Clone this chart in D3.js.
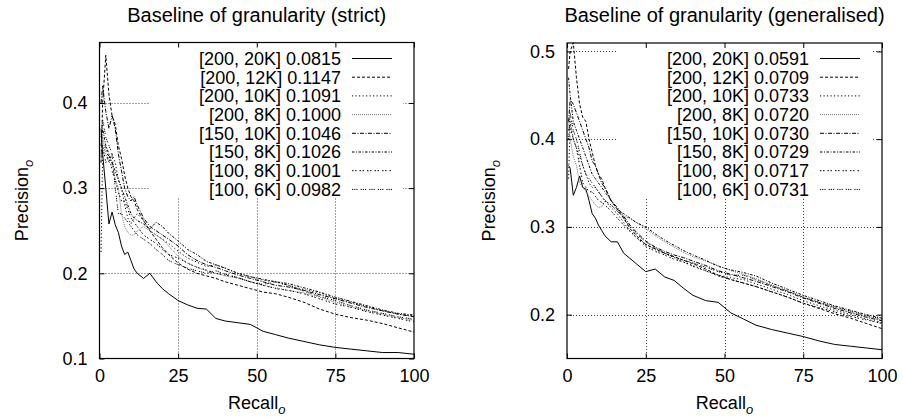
<!DOCTYPE html>
<html>
<head>
<meta charset="utf-8">
<script src="https://cdn.jsdelivr.net/npm/d3@7"></script>
<style>
  body { margin: 0; background: #fff; }
  svg { font-family: "Liberation Sans", Arial, sans-serif; }
</style>
</head>
<body>
<div class="chart-container"></div>
<script>
// Data
// recall grid shared by every curve
const recall = [0.5,1,2,3,4,5,6,7,8,9,10,11,12,14,16,18,20,22,25,28,31,34,37,40,44,48,52,56,60,65,70,75,80,85,90,95,100];

const series_names = ['[200, 20K]','[200, 12K]','[200, 10K]','[200, 8K]','[150, 10K]','[150, 8K]','[100, 8K]','[100, 6K]'];
const strict_scores = ['0.0815','0.1147','0.1091','0.1000','0.1046','0.1026','0.1001','0.0982'];
const general_scores = ['0.0591','0.0709','0.0733','0.0720','0.0730','0.0729','0.0717','0.0731'];

// strict panel precision values
const strict_200_20k = [0.37,0.34,0.30,0.258,0.272,0.257,0.248,0.232,0.222,0.225,0.215,0.205,0.2,0.194,0.2,0.19,0.182,0.176,0.168,0.163,0.159,0.158,0.147,0.144,0.142,0.14,0.132,0.128,0.124,0.12,0.116,0.113,0.111,0.109,0.107,0.107,0.105];
const strict_200_12k = [0.33,0.40,0.456,0.41,0.385,0.375,0.35,0.335,0.315,0.30,0.29,0.285,0.275,0.262,0.25,0.24,0.23,0.222,0.212,0.205,0.20,0.197,0.194,0.19,0.186,0.182,0.178,0.176,0.172,0.166,0.158,0.152,0.148,0.145,0.141,0.136,0.131];
const strict_200_10k = [0.225,0.34,0.35,0.33,0.34,0.33,0.31,0.30,0.28,0.265,0.258,0.265,0.27,0.262,0.25,0.245,0.24,0.235,0.226,0.218,0.213,0.208,0.21,0.206,0.20,0.196,0.192,0.19,0.186,0.181,0.177,0.171,0.166,0.161,0.156,0.152,0.15];
const strict_200_8k = [0.33,0.36,0.34,0.33,0.33,0.31,0.30,0.27,0.255,0.248,0.245,0.245,0.25,0.255,0.25,0.245,0.24,0.232,0.22,0.212,0.207,0.203,0.20,0.197,0.194,0.19,0.186,0.183,0.18,0.177,0.172,0.166,0.161,0.156,0.152,0.148,0.145];
const strict_150_10k = [0.40,0.42,0.39,0.37,0.385,0.37,0.34,0.32,0.30,0.29,0.285,0.29,0.28,0.265,0.255,0.25,0.245,0.24,0.232,0.222,0.215,0.21,0.207,0.203,0.198,0.194,0.19,0.186,0.184,0.18,0.175,0.17,0.165,0.16,0.156,0.152,0.149];
const strict_150_8k = [0.35,0.37,0.35,0.34,0.33,0.32,0.31,0.30,0.29,0.28,0.27,0.265,0.262,0.258,0.252,0.26,0.255,0.247,0.238,0.228,0.222,0.214,0.21,0.206,0.20,0.196,0.193,0.19,0.188,0.183,0.178,0.172,0.167,0.162,0.157,0.153,0.151];
const strict_100_8k = [0.34,0.35,0.33,0.34,0.32,0.31,0.295,0.285,0.285,0.275,0.265,0.26,0.255,0.245,0.24,0.235,0.228,0.222,0.218,0.212,0.207,0.204,0.20,0.198,0.195,0.19,0.186,0.182,0.18,0.176,0.17,0.164,0.16,0.155,0.151,0.147,0.143];
const strict_100_6k = [0.36,0.38,0.36,0.35,0.34,0.30,0.27,0.27,0.265,0.26,0.255,0.25,0.245,0.24,0.235,0.228,0.222,0.215,0.21,0.206,0.203,0.20,0.203,0.199,0.195,0.19,0.187,0.19,0.186,0.179,0.173,0.168,0.162,0.157,0.153,0.149,0.146];

// generalised panel precision values
const general_200_20k = [0.37,0.367,0.336,0.345,0.358,0.345,0.343,0.33,0.315,0.31,0.302,0.296,0.29,0.283,0.283,0.27,0.264,0.258,0.249,0.252,0.243,0.239,0.23,0.222,0.216,0.214,0.202,0.195,0.188,0.183,0.179,0.175,0.17,0.166,0.164,0.162,0.16];
const general_200_12k = [0.48,0.50,0.51,0.47,0.44,0.425,0.42,0.40,0.385,0.37,0.36,0.355,0.345,0.33,0.32,0.31,0.298,0.29,0.28,0.275,0.27,0.266,0.262,0.258,0.252,0.245,0.24,0.236,0.232,0.226,0.22,0.213,0.207,0.201,0.196,0.19,0.184];
const general_200_10k = [0.355,0.42,0.40,0.39,0.38,0.37,0.36,0.35,0.345,0.345,0.34,0.335,0.33,0.322,0.315,0.305,0.295,0.288,0.28,0.274,0.27,0.265,0.26,0.256,0.25,0.245,0.242,0.24,0.235,0.229,0.223,0.216,0.21,0.205,0.20,0.195,0.191];
const general_200_8k = [0.42,0.40,0.38,0.37,0.35,0.345,0.34,0.335,0.33,0.325,0.322,0.323,0.33,0.325,0.318,0.312,0.31,0.305,0.298,0.29,0.283,0.277,0.271,0.266,0.261,0.256,0.25,0.246,0.241,0.234,0.227,0.22,0.214,0.208,0.203,0.198,0.194];
const general_150_10k = [0.42,0.445,0.44,0.43,0.42,0.41,0.40,0.39,0.375,0.37,0.36,0.35,0.345,0.33,0.322,0.312,0.302,0.294,0.284,0.277,0.272,0.268,0.265,0.261,0.256,0.25,0.246,0.242,0.238,0.232,0.226,0.219,0.213,0.207,0.202,0.197,0.193];
const general_150_8k = [0.47,0.45,0.42,0.41,0.40,0.39,0.38,0.37,0.36,0.355,0.35,0.345,0.34,0.33,0.32,0.315,0.31,0.305,0.30,0.292,0.285,0.279,0.273,0.268,0.262,0.255,0.251,0.248,0.244,0.236,0.229,0.222,0.216,0.21,0.205,0.20,0.196];
const general_100_8k = [0.41,0.415,0.40,0.39,0.37,0.35,0.345,0.34,0.34,0.335,0.33,0.328,0.325,0.318,0.31,0.302,0.295,0.288,0.278,0.272,0.268,0.263,0.26,0.255,0.25,0.244,0.24,0.236,0.232,0.226,0.22,0.213,0.208,0.203,0.198,0.194,0.19];
const general_100_6k = [0.40,0.43,0.41,0.40,0.385,0.37,0.36,0.355,0.35,0.345,0.34,0.335,0.33,0.325,0.318,0.31,0.30,0.292,0.283,0.276,0.27,0.266,0.262,0.259,0.254,0.249,0.245,0.245,0.24,0.233,0.227,0.22,0.214,0.209,0.204,0.199,0.195];

const x_ticks = [0, 25, 50, 75, 100];
const strict_y_ticks = [0.1, 0.2, 0.3, 0.4];
const general_y_ticks = [0.2, 0.3, 0.4, 0.5];

// gnuplot-like line types
const line_types = [
    {dash: null, color: '#000'},
    {dash: '3,2', color: '#000'},
    {dash: '1.2,2.3', color: '#000'},
    {dash: '1,1', color: '#777'},
    {dash: '4,1.5,1,1.5', color: '#000'},
    {dash: '2.5,1.5,1,1.5', color: '#000'},
    {dash: '1.5,1.5,1.5,3', color: '#000'},
    {dash: '1.2,1,1.2,1,1.2,3', color: '#000'}
];

const font_size = 18;

const svg = d3.select('.chart-container')
    .append('svg')
    .attr('width', 903)
    .attr('height', 419);

function draw_panel(cfg){
    const {left, right, top, bottom} = cfg.box;
    const x_scale = d3.scaleLinear().domain([0, 100]).range([left, right]);
    const y_scale = d3.scaleLinear().domain(cfg.y_domain).range([bottom, top]);
    const g = svg.append('g');

    // grid (dotted)
    const grid = g.append('g')
        .attr('stroke', '#444')
        .attr('stroke-width', 1)
        .attr('stroke-dasharray', '1,2');
    grid.selectAll('.gx')
        .data(x_ticks.filter(d => d > 0 && d < 100))
        .enter().append('line')
        .attr('x1', d => Math.round(x_scale(d)) + 0.5)
        .attr('x2', d => Math.round(x_scale(d)) + 0.5)
        .attr('y1', top).attr('y2', bottom);
    grid.selectAll('.gy')
        .data(cfg.y_ticks.filter(d => d > cfg.y_domain[0]))
        .enter().append('line')
        .attr('y1', d => Math.round(y_scale(d)) + 0.5)
        .attr('y2', d => Math.round(y_scale(d)) + 0.5)
        .attr('x1', left).attr('x2', right);

    // opaque key box hides the grid
    g.append('rect')
        .attr('x', right - 264)
        .attr('y', top)
        .attr('width', 253)
        .attr('height', 197 - top)
        .attr('fill', '#fff');

    // axes with inward ticks on all four sides
    const tick_len = -5;
    const ax_b = g.append('g').attr('transform', `translate(0, ${bottom})`)
        .call(d3.axisBottom(x_scale).tickValues(x_ticks).tickSize(tick_len).tickPadding(11));
    const ax_t = g.append('g').attr('transform', `translate(0, ${top})`)
        .call(d3.axisTop(x_scale).tickValues(x_ticks).tickSize(tick_len).tickFormat(''));
    const ax_l = g.append('g').attr('transform', `translate(${left}, 0)`)
        .call(d3.axisLeft(y_scale).tickValues(cfg.y_ticks).tickSize(tick_len).tickPadding(12).tickFormat(d3.format('.1f')));
    const ax_r = g.append('g').attr('transform', `translate(${right}, 0)`)
        .call(d3.axisRight(y_scale).tickValues(cfg.y_ticks).tickSize(tick_len).tickFormat(''));
    [ax_b, ax_t, ax_l, ax_r].forEach(a => {
        a.select('.domain').remove();
        a.selectAll('line').attr('stroke', '#000');
        a.selectAll('text').attr('font-size', font_size).attr('fill', '#000')
            .attr('font-family', '"Liberation Sans", Arial, sans-serif');
    });

    // curves
    const line_gen = d3.line()
        .x((d, i) => x_scale(recall[i]))
        .y(d => y_scale(d));
    const plot_area = g.append('g');
    plot_area.selectAll('.curve')
        .data(cfg.series)
        .enter().append('path')
        .attr('d', d => line_gen(d))
        .attr('fill', 'none')
        .attr('stroke', (d, i) => line_types[i].color)
        .attr('stroke-width', 1)
        .attr('stroke-dasharray', (d, i) => line_types[i].dash);

    // frame
    g.append('rect')
        .attr('x', left).attr('y', top)
        .attr('width', right - left).attr('height', bottom - top)
        .attr('fill', 'none').attr('stroke', '#000').attr('stroke-width', 1.2);

    // legend
    const row_y = i => 58.5 + i * 18.7;
    const legend = g.append('g');
    legend.selectAll('text')
        .data(series_names)
        .enter().append('text')
        .attr('x', right - 73)
        .attr('y', (d, i) => row_y(i))
        .attr('dy', '0.35em')
        .attr('text-anchor', 'end')
        .attr('font-size', font_size)
        .text((d, i) => `${d} ${cfg.scores[i]}`);
    legend.selectAll('line')
        .data(series_names)
        .enter().append('line')
        .attr('x1', right - 62).attr('x2', right - 22)
        .attr('y1', (d, i) => row_y(i)).attr('y2', (d, i) => row_y(i))
        .attr('stroke', (d, i) => line_types[i].color)
        .attr('stroke-width', 1)
        .attr('stroke-dasharray', (d, i) => line_types[i].dash);

    // title
    g.append('text')
        .attr('x', (left + right) / 2)
        .attr('y', 22)
        .attr('text-anchor', 'middle')
        .attr('font-size', 20)
        .text(cfg.title);

    // x label
    const xl = g.append('text')
        .attr('x', (left + right) / 2)
        .attr('y', 409)
        .attr('text-anchor', 'middle')
        .attr('font-size', font_size);
    xl.append('tspan').text('Recall');
    xl.append('tspan').attr('dy', 5).attr('font-size', 13).attr('font-style', 'italic').text('o');

    // y label
    const yl = g.append('text')
        .attr('transform', `translate(${cfg.ylabel_x}, ${(top + bottom) / 2}) rotate(-90)`)
        .attr('text-anchor', 'middle')
        .attr('font-size', font_size);
    yl.append('tspan').text('Precision');
    yl.append('tspan').attr('dy', 5).attr('font-size', 13).attr('font-style', 'italic').text('o');
}

draw_panel({
    box: {left: 99.5, right: 414, top: 42.5, bottom: 358.5},
    y_domain: [0.1, 0.471],
    y_ticks: strict_y_ticks,
    series: [strict_200_20k, strict_200_12k, strict_200_10k, strict_200_8k, strict_150_10k, strict_150_8k, strict_100_8k, strict_100_6k],
    scores: strict_scores,
    title: 'Baseline of granularity (strict)',
    ylabel_x: 28
});

draw_panel({
    box: {left: 567, right: 882, top: 43, bottom: 358.5},
    y_domain: [0.15, 0.5096],
    y_ticks: general_y_ticks,
    series: [general_200_20k, general_200_12k, general_200_10k, general_200_8k, general_150_10k, general_150_8k, general_100_8k, general_100_6k],
    scores: general_scores,
    title: 'Baseline of granularity (generalised)',
    ylabel_x: 495
});
</script>
</body>
</html>
